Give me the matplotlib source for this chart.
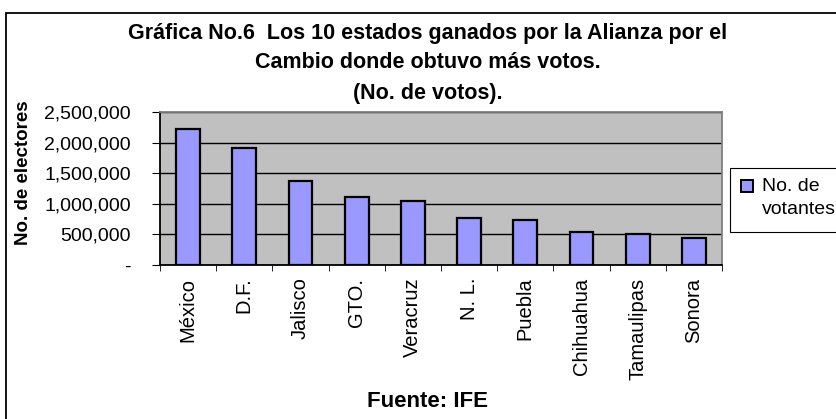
import matplotlib
matplotlib.use("Agg")
import matplotlib.pyplot as plt
from matplotlib.patches import Rectangle
from matplotlib.ticker import FuncFormatter, FixedLocator

plt.rcParams['font.family'] = ['Liberation Sans', 'DejaVu Sans']

estados = ['México', 'D.F.', 'Jalisco', 'GTO.', 'Veracruz', 'N. L.',
           'Puebla', 'Chihuahua', 'Tamaulipas', 'Sonora']
votos = [2230000, 1905000, 1370000, 1115000, 1050000, 768000,
         735000, 540000, 505000, 446000]
serie = 'No. de\nvotantes'
titulo = ['Gráfica No.6  Los 10 estados ganados por la Alianza por el',
          'Cambio donde obtuvo más votos.',
          '(No. de votos).']

W, H = 837, 419
fig = plt.figure(figsize=(W / 100, H / 100), dpi=100)
ax = fig.add_axes([160 / W, 1 - 265 / H, 562 / W, 153 / H])

# outer chart frame (runs off the right and bottom edge)
fig.patches.append(Rectangle((6 / W, -0.05), 1.0, 1 - 13 / H + 0.05,
                             transform=fig.transFigure, fill=False,
                             edgecolor='black', linewidth=1.3))

x = list(range(len(estados)))
ax.bar(x, votos, width=0.42, color='#9999FF', edgecolor='black',
       linewidth=1.6, zorder=3)

ax.set_facecolor('#C0C0C0')
ax.set_xlim(-0.5, len(estados) - 0.5)
ax.set_ylim(0, 2500000)
ax.set_yticks([0, 500000, 1000000, 1500000, 2000000, 2500000])
ax.yaxis.set_major_formatter(FuncFormatter(lambda v, p: '-' if v == 0 else f'{int(v):,}'))
ax.grid(axis='y', color='black', linewidth=1, zorder=1)
for s in ax.spines.values():
    s.set_color('#808080')
    s.set_linewidth(1.3)
ax.spines['bottom'].set_color('black')
ax.spines['left'].set_color('black')

ax.set_xticks(x)
ax.set_xticklabels(estados, rotation=90, fontsize=14.5, va='top')
ax.tick_params(axis='x', length=0, pad=9)
ax.xaxis.set_minor_locator(FixedLocator([i - 0.5 for i in range(len(estados) + 1)]))
ax.tick_params(axis='x', which='minor', length=4, color='black', direction='out')
ax.tick_params(axis='y', labelsize=14, length=6, color='black', pad=15)

fig.text(24 / W, 1 - 173 / H, 'No. de electores', rotation=90, ha='center',
         va='center', fontsize=13.5, fontweight='bold')

for t, yc in zip(titulo, [34, 62, 93]):
    fig.text(428 / W, 1 - yc / H, t, ha='center', va='center',
             fontsize=15.5, fontweight='bold')
fig.text(428 / W, 1 - 401 / H, 'Fuente: IFE', ha='center', va='center',
         fontsize=16, fontweight='bold')

# legend drawn by hand: box, swatch aligned with first text line
fig.patches.append(Rectangle((730 / W, 1 - 232 / H), 0.2, 64 / H,
                             transform=fig.transFigure, facecolor='white',
                             edgecolor='black', linewidth=0.8))
fig.patches.append(Rectangle((741 / W, 1 - 192 / H), 12 / W, 12 / H,
                             transform=fig.transFigure, facecolor='#9999FF',
                             edgecolor='black', linewidth=1.4))
fig.text(762 / W, 1 - 198 / H, serie, ha='left', va='center', fontsize=14,
         linespacing=1.4)

fig.savefig('out.png', dpi=100)
